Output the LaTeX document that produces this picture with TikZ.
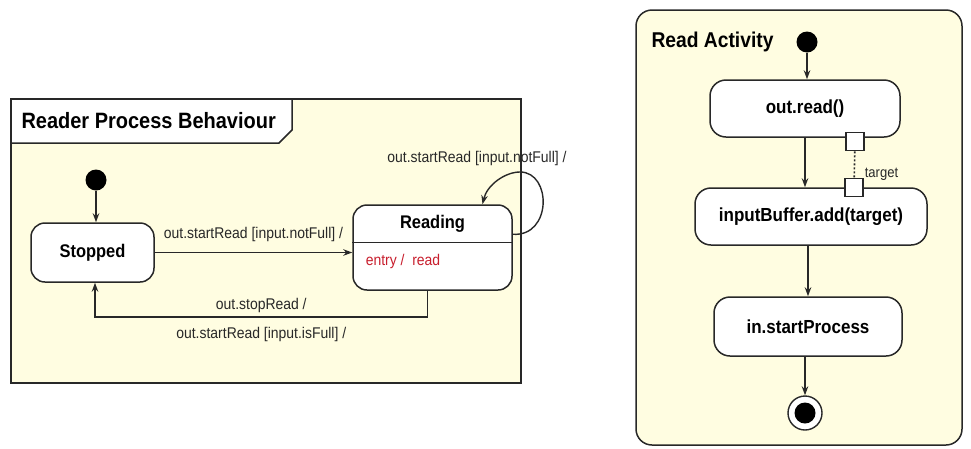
\documentclass[tikz,border=0pt]{standalone}
\usepackage{fontspec}
\setmainfont{Liberation Sans}[FakeStretch=0.9]
\usetikzlibrary{arrows.meta, positioning, calc}

\definecolor{framefill}{RGB}{255,253,225}
\definecolor{linegray}{RGB}{40,40,40}
\definecolor{actionred}{RGB}{200,30,45}

\begin{document}
\begin{tikzpicture}[x=1pt, y=-1pt,
      frame/.style={draw=linegray, line width=1.5pt, fill=framefill},
      statebox/.style={draw=linegray, line width=1.5pt, fill=white, rounded corners=14pt, font=\fontsize{18.3}{20}\selectfont\bfseries},
      actbox/.style={draw=linegray, line width=1.5pt, fill=white, rounded corners=16pt, font=\fontsize{18.9}{21}\selectfont\bfseries},
      lbl/.style={font=\fontsize{15.5}{17}\selectfont, text=linegray},
      arrow/.style={-{Stealth[length=9pt, width=6.5pt]}, line width=1.4pt, draw=linegray},
      initdot/.style={circle, fill=black, minimum size=21pt, inner sep=0pt},
      pinbox/.style={draw=linegray, line width=1.2pt, fill=white, minimum size=18pt, inner sep=0pt}
    ]
      \useasboundingbox (0,0) rectangle (971,448);

      % Reader process state machine frame
      \draw[frame] (11,99) rectangle (521,383);
      \draw[frame, fill=white] (11,99) -- (292,99) -- (292,130) -- (279,143) -- (11,143) -- cycle;
      \node[font=\fontsize{22.2}{24}\selectfont\bfseries, anchor=west] (behtitle) at (18,121) {Reader Process Behaviour};

      % States
      \node[statebox, minimum width=123pt, minimum height=59pt] (stopped) at (92.5,252.5) {Stopped};
      \node[initdot] (init1) at (96,180) {};
      \node[statebox, minimum width=159pt, minimum height=85pt] (reading) at (432.5,247.5) {};
      \node[font=\fontsize{18.3}{20}\selectfont\bfseries] (readname) at ([yshift=-20pt]reading.north) {Reading};
      \draw[line width=1.5pt, draw=linegray] ([yshift=-38pt]reading.north west) -- ([yshift=-38pt]reading.north east);
      \node[lbl, text=actionred, anchor=west] (entryact) at ([xshift=10pt, yshift=-57pt]reading.north west) {entry /\ \ read};

      % Transitions
      \draw[arrow] (init1) -- (init1 |- stopped.north);
      \draw[arrow] (stopped.east) -- (reading.west |- stopped.east)
        node[lbl, midway, above=7pt] (startlbl) {out.startRead [input.notFull] /};
      \coordinate (backturn) at (95,317);
      \draw[arrow] ([xshift=-5pt]reading.south) |- (backturn)
        node[lbl, pos=0.75, above=0pt] (stoplbl) {out.stopRead /}
        node[lbl, pos=0.75, below=6pt] (fulllbl) {out.startRead [input.isFull] /}
        -- (backturn |- stopped.south);
      \draw[arrow] ([yshift=-30pt]reading.north east) .. controls (552,237) and (552,172) .. (520,172)
        .. controls (505,172) and (487,185) .. ([xshift=50pt]reading.north);
      \node[lbl] (looplbl) at (477,158) {out.startRead [input.notFull] /};

      % Read activity frame
      \draw[frame, rounded corners=16pt] (636,10) rectangle (962,445);
      \node[font=\fontsize{21.4}{23}\selectfont\bfseries, anchor=west] (acttitle) at (648,42) {Read Activity};
      \node[initdot] (init2) at (807,42) {};

      % Actions
      \node[actbox, minimum width=190pt, minimum height=57pt] (outread) at (805,108.5) {out.read()};
      \node[actbox, minimum width=232pt, minimum height=57pt] (bufadd) at (811,216.5) {inputBuffer.add(target)};
      \node[actbox, minimum width=188pt, minimum height=59pt] (startproc) at (808,326.5) {in.startProcess};
      \node[circle, draw=linegray, line width=1.4pt, fill=white, minimum size=34pt, inner sep=0pt] (final) at (805,413) {};
      \node[initdot] (finaldot) at (final) {};

      % Pins
      \node[pinbox] (outpin) at ([xshift=50pt, yshift=-4pt]outread.south) {};
      \node[pinbox] (inpin) at ([xshift=43pt]bufadd.north) {};
      \node[font=\fontsize{14.5}{16}\selectfont, text=linegray, anchor=west, inner sep=1pt] (pinlbl) at ([yshift=3pt]inpin.north east) {target};

      % Flows
      \draw[arrow] (init2) -- (init2 |- outread.north);
      \draw[arrow] (outread.south) -- (outread.south |- bufadd.north);
      \draw[line width=1.6pt, draw=linegray, dash pattern=on 2pt off 2pt] (outpin) -- (inpin);
      \draw[arrow] (startproc.north |- bufadd.south) -- (startproc.north);
      \draw[arrow] (final |- startproc.south) -- (final.north);

    \end{tikzpicture}
\end{document}
